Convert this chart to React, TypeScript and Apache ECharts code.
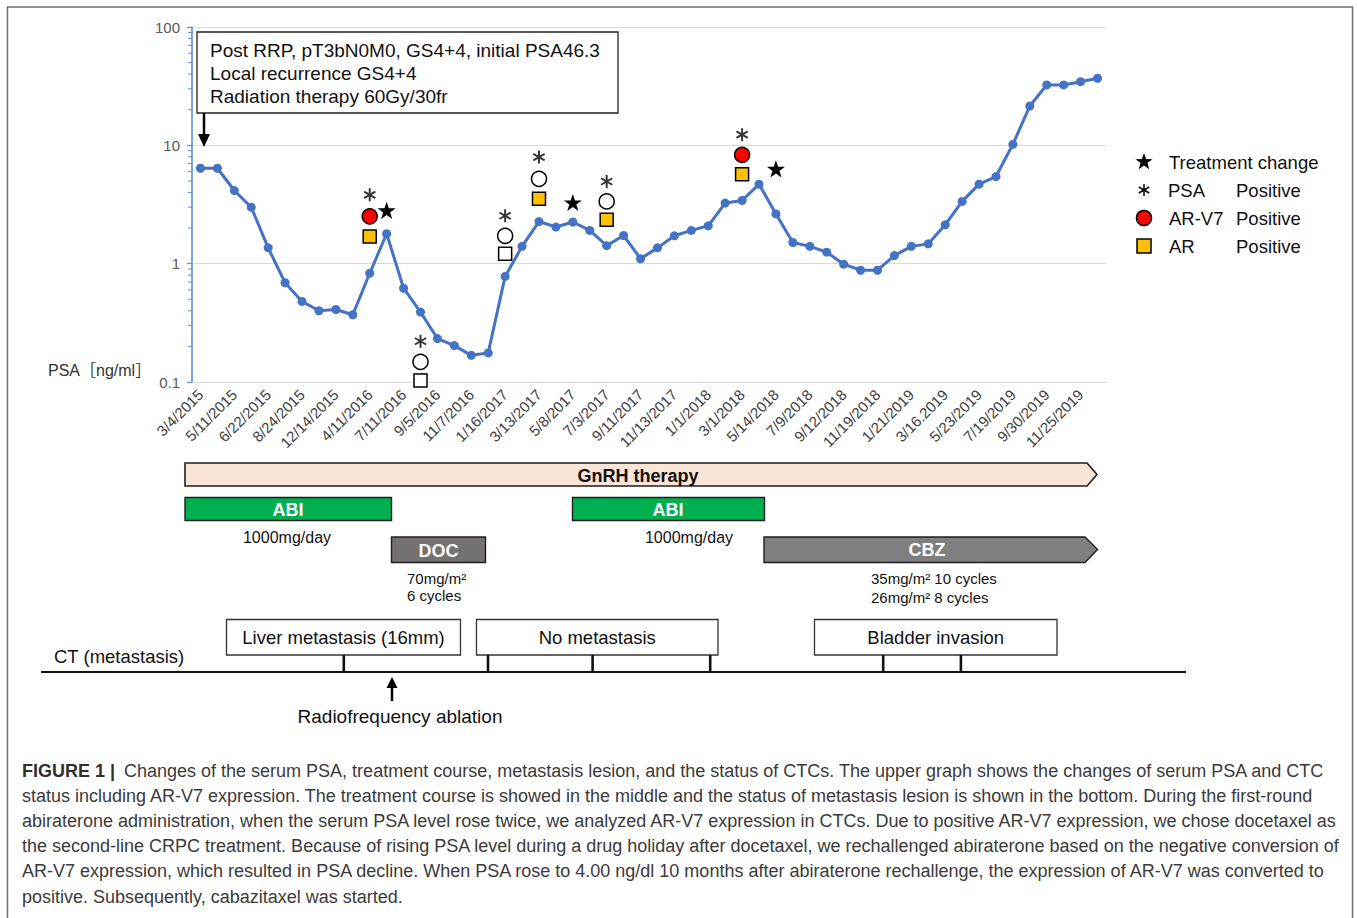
import React, { useEffect, useRef } from 'react';
import * as echarts from 'echarts';

// ---------- data ----------
const dateLabels = [
  '3/4/2015', '5/11/2015', '6/22/2015', '8/24/2015', '12/14/2015', '4/11/2016', '7/11/2016',
  '9/5/2016', '11/7/2016', '1/16/2017', '3/13/2017', '5/8/2017', '7/3/2017', '9/11/2017',
  '11/13/2017', '1/1/2018', '3/1/2018', '5/14/2018', '7/9/2018', '9/12/2018', '11/19/2018',
  '1/21/2019', '3/16.2019', '5/23/2019', '7/19/2019', '9/30/2019', '11/25/2019',
];

const psaValues = [
  6.4, 6.4, 4.15, 3.0, 1.36, 0.69, 0.48, 0.40, 0.41, 0.37,
  0.83, 1.79, 0.62, 0.39, 0.233, 0.203, 0.168, 0.176, 0.78, 1.40,
  2.27, 2.04, 2.25, 1.91, 1.42, 1.73, 1.10, 1.36, 1.72, 1.91,
  2.09, 3.25, 3.42, 4.70, 2.63, 1.51, 1.40, 1.25, 0.99, 0.88,
  0.88, 1.17, 1.40, 1.47, 2.13, 3.36, 4.70, 5.45, 10.2, 21.5,
  32.4, 32.4, 34.5, 36.9,
];

// CTC tests (category index, possibly between two measurements)
const ctcTestPoint = [10, 13, 17.7, 20, 24, 32.15];
const psaMarkValue = [3.82, 0.221, 2.54, 7.95, 4.95, 12.3];
const arv7MarkValue = [2.51, 0.148, 1.72, 5.21, 3.36, 8.31];
const arv7Positive = [true, false, false, false, false, true];
const arMarkValue = [1.70, 0.103, 1.21, 3.54, 2.35, 5.71];
const arPositive = [true, false, false, true, true, true];

const treatmentChangePoint = [11.24, 22, 33.94];
const treatmentChangeValue = [2.82, 3.29, 6.33];

const yTickLabels = ['0.1', '1', '10', '100'];
const minorTickValues = [
  0.2, 0.3, 0.4, 0.5, 0.6, 0.7, 0.8, 0.9,
  2, 3, 4, 5, 6, 7, 8, 9,
  20, 30, 40, 50, 60, 70, 80, 90,
];

const infoLines = [
  'Post RRP, pT3bN0M0, GS4+4, initial PSA46.3',
  'Local recurrence GS4+4',
  'Radiation therapy 60Gy/30fr',
];

const captionLines = [
  'Changes of the serum PSA, treatment course, metastasis lesion, and the status of CTCs. The upper graph shows the changes of serum PSA and CTC',
  'status including AR-V7 expression. The treatment course is showed in the middle and the status of metastasis lesion is shown in the bottom. During the first-round',
  'abiraterone administration, when the serum PSA level rose twice, we analyzed AR-V7 expression in CTCs. Due to positive AR-V7 expression, we chose docetaxel as',
  'the second-line CRPC treatment. Because of rising PSA level during a drug holiday after docetaxel, we rechallenged abiraterone based on the negative conversion of',
  'AR-V7 expression, which resulted in PSA decline. When PSA rose to 4.00 ng/dl 10 months after abiraterone rechallenge, the expression of AR-V7 was converted to',
  'positive. Subsequently, cabazitaxel was started.',
];

// ---------- helpers ----------
const FONT = '"Liberation Sans", Arial, Helvetica, sans-serif';

function starPts(cx: number, cy: number, R: number, r: number): number[][] {
  const pts: number[][] = [];
  for (let k = 0; k < 10; k++) {
    const rad = k % 2 === 0 ? R : r;
    const a = (-90 + k * 36) * Math.PI / 180;
    pts.push([cx + rad * Math.cos(a), cy + rad * Math.sin(a)]);
  }
  return pts;
}

function starSymbol(): string {
  const p = starPts(0, 0, 10, 3.9);
  return 'path://M' + p.map((q) => q[0].toFixed(3) + ' ' + q[1].toFixed(3)).join(' L') + ' Z';
}

function asteriskSymbol(): string {
  const L = 10, w = 1.5;
  let d = 'path://';
  [90, 30, 150].forEach((deg) => {
    const a = deg * Math.PI / 180;
    const ux = Math.cos(a), uy = Math.sin(a);
    const nx = -uy, ny = ux;
    const c = [
      [L * ux + w * nx, L * uy + w * ny],
      [-L * ux + w * nx, -L * uy + w * ny],
      [-L * ux - w * nx, -L * uy - w * ny],
      [L * ux - w * nx, L * uy - w * ny],
    ];
    d += 'M' + c.map((q) => q[0].toFixed(3) + ' ' + q[1].toFixed(3)).join(' L') + ' Z ';
  });
  return d;
}

function txt(text: string, x: number, y: number, opts: any = {}) {
  const align = opts.align || 'left';
  return {
    type: 'text',
    silent: true,
    z: opts.z || 10,
    style: {
      text,
      x,
      y,
      fill: opts.fill || '#111',
      fontSize: opts.fontSize || 16,
      fontWeight: opts.fontWeight || 'normal',
      fontFamily: opts.fontFamily || FONT,
      align,
      textAlign: align,
      verticalAlign: 'middle',
      textVerticalAlign: 'middle',
    },
  };
}

function buildGraphics(): any[] {
  const g: any[] = [];
  const dark = '#1e1e1e';
  // outer frame
  g.push({ type: 'rect', silent: true, z: 1, shape: { x: 7.5, y: 7, width: 1345, height: 1000 }, style: { fill: 'none', stroke: '#6e6e6e', lineWidth: 1.5 } });

  // info box
  g.push({ type: 'rect', silent: true, z: 9, shape: { x: 197, y: 32, width: 421, height: 81 }, style: { fill: '#fff', stroke: '#222', lineWidth: 1.3 } });
  infoLines.forEach((t, i) => g.push(txt(t, 210, 50 + i * 23, { fontSize: 19 })));
  g.push({ type: 'line', silent: true, z: 9, shape: { x1: 204, y1: 113, x2: 204, y2: 136 }, style: { stroke: '#000', lineWidth: 2.5 } });
  g.push({ type: 'polygon', silent: true, z: 9, shape: { points: [[198, 134], [210, 134], [204, 147]] }, style: { fill: '#000' } });

  // y-axis title
  g.push(txt('PSA［ng/ml］', 48, 370, { fontSize: 16, fill: '#333', fontFamily: FONT + ', "Noto Sans CJK JP"' }));

  // legend
  g.push({ type: 'polygon', silent: true, z: 10, shape: { points: starPts(1144, 162, 9, 3.6) }, style: { fill: '#000' } });
  g.push(txt('Treatment change', 1169, 162, { fontSize: 18.5 }));
  [90, 30, 150].forEach((deg) => {
    const a = deg * Math.PI / 180;
    g.push({ type: 'line', silent: true, z: 10, shape: { x1: 1144 + 6 * Math.cos(a), y1: 190 + 6 * Math.sin(a), x2: 1144 - 6 * Math.cos(a), y2: 190 - 6 * Math.sin(a) }, style: { stroke: '#000', lineWidth: 1.5 } });
  });
  g.push(txt('PSA', 1168, 190, { fontSize: 18.5 }));
  g.push(txt('Positive', 1236, 190, { fontSize: 18.5 }));
  g.push({ type: 'circle', silent: true, z: 10, shape: { cx: 1144, cy: 218, r: 7.5 }, style: { fill: '#FF0000', stroke: '#000', lineWidth: 1.5 } });
  g.push(txt('AR-V7', 1169, 218, { fontSize: 18.5 }));
  g.push(txt('Positive', 1236, 218, { fontSize: 18.5 }));
  g.push({ type: 'rect', silent: true, z: 10, shape: { x: 1137, y: 239, width: 14, height: 14 }, style: { fill: '#FFC000', stroke: '#000', lineWidth: 1.5 } });
  g.push(txt('AR', 1169, 246, { fontSize: 18.5 }));
  g.push(txt('Positive', 1236, 246, { fontSize: 18.5 }));

  // GnRH therapy arrow
  g.push({ type: 'polygon', silent: true, z: 5, shape: { points: [[185, 463], [1087, 463], [1097, 474.5], [1087, 486], [185, 486]] }, style: { fill: '#FBE5D6', stroke: dark, lineWidth: 1.6 } });
  g.push(txt('GnRH therapy', 638, 476, { fontSize: 18, fontWeight: 'bold', align: 'center' }));

  // ABI bars
  g.push({ type: 'rect', silent: true, z: 5, shape: { x: 185, y: 497.5, width: 206.5, height: 23 }, style: { fill: '#00B050', stroke: dark, lineWidth: 1.4 } });
  g.push(txt('ABI', 288, 510, { fontSize: 18, fontWeight: 'bold', fill: '#fff', align: 'center' }));
  g.push(txt('1000mg/day', 287, 537, { fontSize: 16, align: 'center' }));
  g.push({ type: 'rect', silent: true, z: 5, shape: { x: 572.5, y: 497.5, width: 192, height: 23 }, style: { fill: '#00B050', stroke: dark, lineWidth: 1.4 } });
  g.push(txt('ABI', 668, 510, { fontSize: 18, fontWeight: 'bold', fill: '#fff', align: 'center' }));
  g.push(txt('1000mg/day', 689, 537, { fontSize: 16, align: 'center' }));

  // DOC
  g.push({ type: 'rect', silent: true, z: 5, shape: { x: 391.5, y: 537, width: 94, height: 25.5 }, style: { fill: '#767171', stroke: dark, lineWidth: 1.4 } });
  g.push(txt('DOC', 438.5, 550.5, { fontSize: 18, fontWeight: 'bold', fill: '#fff', align: 'center' }));
  g.push(txt('70mg/m²', 407, 578, { fontSize: 15 }));
  g.push(txt('6 cycles', 407, 595, { fontSize: 15 }));

  // CBZ arrow
  g.push({ type: 'polygon', silent: true, z: 5, shape: { points: [[764, 537], [1085, 537], [1097.5, 549.5], [1085, 562.5], [764, 562.5]] }, style: { fill: '#7F7F7F', stroke: dark, lineWidth: 1.4 } });
  g.push(txt('CBZ', 927, 550, { fontSize: 18, fontWeight: 'bold', fill: '#fff', align: 'center' }));
  g.push(txt('35mg/m² 10 cycles', 871, 578, { fontSize: 15 }));
  g.push(txt('26mg/m² 8 cycles', 871, 597, { fontSize: 15 }));

  // CT metastasis row
  const boxes = [
    { x: 226.5, w: 234, t: 'Liver metastasis (16mm)' },
    { x: 476.5, w: 241.5, t: 'No metastasis' },
    { x: 814.5, w: 242.5, t: 'Bladder invasion' },
  ];
  boxes.forEach((b) => {
    g.push({ type: 'rect', silent: true, z: 5, shape: { x: b.x, y: 619.5, width: b.w, height: 35.5 }, style: { fill: '#fff', stroke: '#333', lineWidth: 1.3 } });
    g.push(txt(b.t, b.x + b.w / 2, 637.5, { fontSize: 18.5, align: 'center' }));
  });
  g.push(txt('CT (metastasis)', 54, 656, { fontSize: 18.5 }));
  g.push({ type: 'line', silent: true, z: 5, shape: { x1: 41, y1: 672, x2: 1186, y2: 672 }, style: { stroke: '#111', lineWidth: 2.2 } });
  [343.8, 488, 592.6, 710.2, 883.2, 960.9].forEach((x) => {
    g.push({ type: 'line', silent: true, z: 5, shape: { x1: x, y1: 655, x2: x, y2: 672 }, style: { stroke: '#111', lineWidth: 2.6 } });
  });
  g.push({ type: 'line', silent: true, z: 5, shape: { x1: 392, y1: 701, x2: 392, y2: 685 }, style: { stroke: '#000', lineWidth: 2.5 } });
  g.push({ type: 'polygon', silent: true, z: 5, shape: { points: [[386.5, 688], [397.5, 688], [392, 677]] }, style: { fill: '#000' } });
  g.push(txt('Radiofrequency ablation', 400, 716, { fontSize: 19, align: 'center' }));

  // caption
  g.push(txt('FIGURE 1 |', 22, 771, { fontSize: 18, fontWeight: 'bold', fill: '#2f2f2f' }));
  captionLines.forEach((t, i) => {
    g.push(txt(t, i === 0 ? 124 : 22, 771 + i * 25.1, { fontSize: 18, fill: '#3a3a3a' }));
  });
  return g;
}

export default function App() {
  const ref = useRef<HTMLDivElement>(null);
  useEffect(() => {
    if (!ref.current) return;
    const chart = echarts.init(ref.current, undefined, { renderer: 'svg' });
    const categories: string[] = psaValues.map((_, i) => (i % 2 === 0 ? dateLabels[i / 2] : ''));
    const axisBlue = '#5B8FD6';
    const option: any = {
      animation: false,
      textStyle: { fontFamily: FONT },
      grid: { left: 192, top: 27, width: 914, height: 355, containLabel: false },
      xAxis: {
        type: 'category',
        data: categories,
        boundaryGap: true,
        axisLine: { show: true, lineStyle: { color: '#d9d9d9', width: 1 } },
        axisTick: { show: false },
        axisLabel: { interval: 1, rotate: 45, fontSize: 15, color: '#404040', margin: 10, fontFamily: FONT },
        splitLine: { show: false },
      },
      yAxis: {
        type: 'log',
        logBase: 10,
        min: 0.1,
        max: 100,
        axisLine: { show: true, lineStyle: { color: axisBlue, width: 1.6 } },
        axisTick: { show: true, length: 5, lineStyle: { color: axisBlue, width: 1.2 } },
        axisLabel: {
          fontSize: 15,
          color: '#595959',
          margin: 12,
          fontFamily: FONT,
          formatter: (v: number) => yTickLabels[Math.round(Math.log10(v)) + 1] ?? String(v),
        },
        splitLine: { show: true, lineStyle: { color: '#d9d9d9', width: 1.2 } },
      },
      series: [
        {
          type: 'custom',
          name: 'minor ticks',
          silent: true,
          clip: false,
          z: 1,
          data: minorTickValues.map((v) => [0, v]),
          encode: { x: 0, y: 1 },
          renderItem: (params: any, api: any) => {
            const y = api.coord([0, api.value(1)])[1];
            const x0 = params.coordSys.x;
            return { type: 'line', shape: { x1: x0 - 4, y1: y, x2: x0, y2: y }, style: { stroke: axisBlue, lineWidth: 1 } };
          },
        },
        {
          type: 'line',
          name: 'PSA',
          data: psaValues,
          symbol: 'circle',
          symbolSize: 9,
          z: 3,
          lineStyle: { color: '#4472C4', width: 3 },
          itemStyle: { color: '#4472C4' },
        },
        {
          type: 'scatter',
          name: 'PSA Positive',
          data: ctcTestPoint.map((x, i) => [x, psaMarkValue[i]]),
          symbol: asteriskSymbol(),
          symbolSize: 13,
          symbolKeepAspect: true,
          z: 5,
          itemStyle: { color: '#000' },
        },
        {
          type: 'scatter',
          name: 'AR-V7',
          data: ctcTestPoint.map((x, i) => [x, arv7MarkValue[i]]),
          symbol: 'circle',
          symbolSize: 15,
          z: 5,
          itemStyle: {
            color: (p: any) => (arv7Positive[p.dataIndex] ? '#FF0000' : '#FFFFFF'),
            borderColor: '#000',
            borderWidth: 1.5,
            opacity: 1,
          },
        },
        {
          type: 'scatter',
          name: 'AR',
          data: ctcTestPoint.map((x, i) => [x, arMarkValue[i]]),
          symbol: 'rect',
          symbolSize: 13,
          z: 5,
          itemStyle: {
            color: (p: any) => (arPositive[p.dataIndex] ? '#FFC000' : '#FFFFFF'),
            borderColor: '#000',
            borderWidth: 1.5,
            opacity: 1,
          },
        },
        {
          type: 'scatter',
          name: 'Treatment change',
          data: treatmentChangePoint.map((x, i) => [x, treatmentChangeValue[i]]),
          symbol: starSymbol(),
          symbolSize: 18,
          symbolKeepAspect: true,
          z: 5,
          itemStyle: { color: '#000', opacity: 1 },
        },
      ],
      graphic: buildGraphics(),
    };
    chart.setOption(option);
    return () => chart.dispose();
  }, []);
  return (
    <div
      ref={ref}
      style={{ position: 'absolute', left: 0, top: 0, width: 1357, height: 918, background: '#fff' }}
    />
  );
}
